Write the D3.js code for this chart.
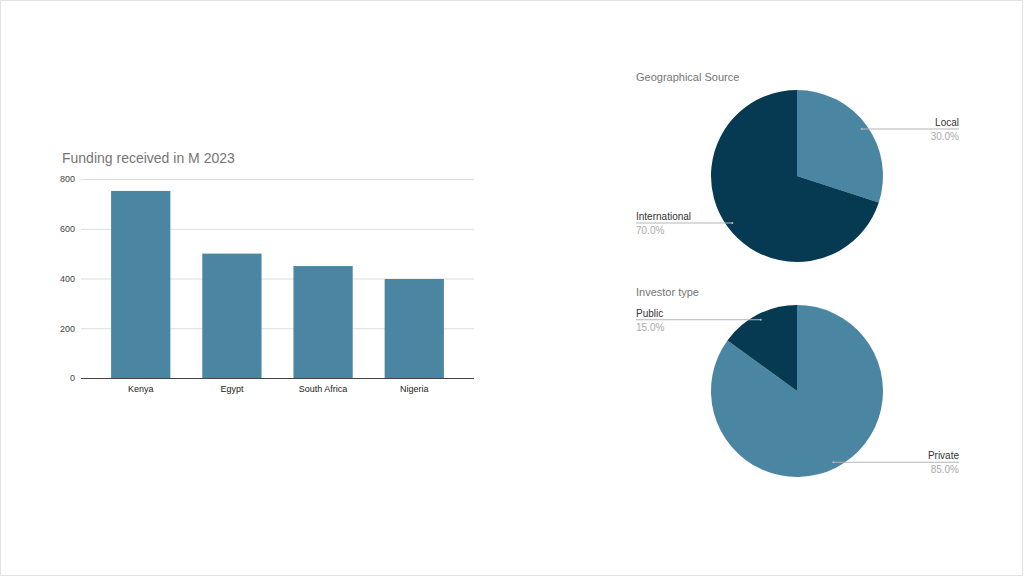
<!DOCTYPE html>
<html>
<head>
<meta charset="utf-8">
<script src="https://cdn.jsdelivr.net/npm/d3@7"></script>
<style>
  body { margin: 0; background: #fff; }
  svg { display: block; font-family: "Liberation Sans", Arial, sans-serif; }
</style>
</head>
<body>
<svg id="chart" width="1024" height="577"></svg>
<script>
// bar chart data
var countries = ["Kenya", "Egypt", "South Africa", "Nigeria"];
var funding = [752, 500, 450, 398];
var yTicks = [0, 200, 400, 600, 800];

// pie data
var geoLabels = ["Local", "International"];
var geoValues = [30, 70];
var investorLabels = ["Private", "Public"];
var investorValues = [85, 15];

var lightBlue = "#4a86a2", darkBlue = "#053a52";

var svg = d3.select("#chart");

// thin frame round the slide
svg.append("rect").attr("x", 0.5).attr("y", 0.5).attr("width", 1022).attr("height", 575)
   .attr("fill", "none").attr("stroke", "#e2e2e2");

// ---------- bar chart ----------
var x = d3.scaleBand().domain(countries).range([81, 474]).paddingInner(0.35).paddingOuter(0.33);
var y = d3.scaleLinear().domain([0, 800]).range([378, 179]);

svg.append("text").attr("x", 62).attr("y", 163).attr("font-size", 14).attr("fill", "#757575")
   .text("Funding received in M 2023");

var yAxis = svg.append("g").attr("transform", "translate(81,0)")
   .call(d3.axisLeft(y).tickValues(yTicks).tickSize(-393).tickPadding(6));
yAxis.select(".domain").remove();
yAxis.selectAll(".tick line").attr("stroke", "#dcdcdc");
yAxis.selectAll(".tick text").attr("font-size", 9).attr("fill", "#444").attr("font-family", "inherit");

svg.selectAll(".bar").data(funding).enter().append("rect").attr("class", "bar")
   .attr("x", function(d, i){ return x(countries[i]); })
   .attr("y", function(d){ return y(d); })
   .attr("width", x.bandwidth())
   .attr("height", function(d){ return y(0) - y(d); })
   .attr("fill", lightBlue);

var xAxis = svg.append("g").attr("transform", "translate(0,378)")
   .call(d3.axisBottom(x).tickSize(0).tickPadding(8));
xAxis.select(".domain").attr("stroke", "#444").attr("d", "M81,0.5H474");
xAxis.selectAll(".tick text").attr("font-size", 9).attr("fill", "#222").attr("font-family", "inherit");

// ---------- pies ----------
function drawPie(title, titleY, labels, values, cy){
    var cx = 797, r = 86;
    svg.append("text").attr("x", 636).attr("y", titleY).attr("font-size", 11).attr("fill", "#757575").text(title);

    var arcs = d3.pie().sort(null)(values);
    var arc = d3.arc().innerRadius(0).outerRadius(r);
    var inner = d3.arc().innerRadius(r * 0.93).outerRadius(r * 0.93);
    var g = svg.append("g").attr("transform", "translate(" + cx + "," + cy + ")");
    var colors = [lightBlue, darkBlue];

    g.selectAll("path").data(arcs).enter().append("path")
     .attr("d", arc).attr("fill", function(d, i){ return colors[i]; });

    arcs.forEach(function(d, i){
        var p = inner.centroid(d);
        var px = cx + p[0], py = cy + p[1];
        var mid = (d.startAngle + d.endAngle) / 2;
        var left = mid > Math.PI;
        var lx = left ? 636 : 959;
        svg.append("line").attr("x1", px).attr("y1", py).attr("x2", lx).attr("y2", py)
           .attr("stroke", "#b5b5b5").attr("stroke-width", 1);
        svg.append("circle").attr("cx", px).attr("cy", py).attr("r", 1).attr("fill", "#bbb");
        svg.append("text").attr("x", lx).attr("y", py - 3).attr("font-size", 10)
           .attr("text-anchor", left ? "start" : "end").attr("fill", "#333").text(labels[i]);
        svg.append("text").attr("x", lx).attr("y", py + 11).attr("font-size", 10)
           .attr("text-anchor", left ? "start" : "end").attr("fill", "#aaa")
           .text(d3.format(".1f")(values[i] / d3.sum(values) * 100) + "%");
    });
}

drawPie("Geographical Source", 81, geoLabels, geoValues, 176);
drawPie("Investor type", 296, investorLabels, investorValues, 391);
</script>
</body>
</html>
